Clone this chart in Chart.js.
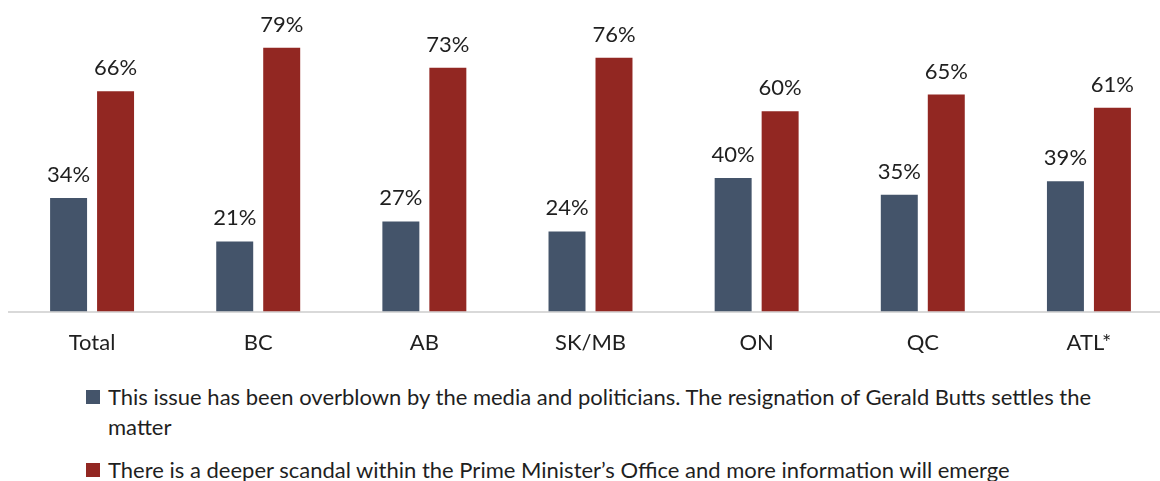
<!DOCTYPE html>
<html>
<head>
<meta charset="utf-8">
<script src="https://cdn.jsdelivr.net/npm/chart.js@4/dist/chart.umd.min.js"></script>
<style>
    html, body { margin: 0; padding: 0; background: #fff; overflow: hidden; width: 1160px; height: 481px; }
    #wrap { position: absolute; left: 0; top: 0; width: 1172px; height: 374px; }
    #legend { position: absolute; left: 0; top: 382px; font-family: Lato, sans-serif; font-size: 22px; color: #1f1f1f; }
    .legend-item { position: relative; padding-left: 108px; width: 1000px; line-height: 30px; margin-bottom: 13px; }
    .legend-box { position: absolute; left: 86px; top: 8px; width: 14px; height: 14px; }
</style>
</head>
<body>
<div id="wrap"><canvas id="chart" width="1172" height="374"></canvas></div>
<div id="legend"></div>

<script>
// ── Data ──────────────────────────────────────────────────────────────────────

const categories = ['Total', 'BC', 'AB', 'SK/MB', 'ON', 'QC', 'ATL*'];
const overblown  = [34, 21, 27, 24, 40, 35, 39];
const scandal    = [66, 79, 73, 76, 60, 65, 61];
const seriesLabels = [
    'This issue has been overblown by the media and politicians. The resignation of Gerald Butts settles the matter',
    'There is a deeper scandal within the Prime Minister\u2019s Office and more information will emerge'
];
const seriesColors = ['#44546A', '#922722'];

const FONT = 'Lato, sans-serif';

// ── Value labels above bars ───────────────────────────────────────────────────

const valueLabels = {
    id: 'valueLabels',
    afterDatasetsDraw(chart) {
        const ctx = chart.ctx;
        ctx.save();
        ctx.font = `22px ${FONT}`;
        ctx.fillStyle = '#1f1f1f';
        ctx.textAlign = 'center';
        ctx.textBaseline = 'alphabetic';
        chart.data.datasets.forEach((ds, i) => {
            chart.getDatasetMeta(i).data.forEach((bar, j) => {
                ctx.fillText(`${ds.data[j]}%`, bar.x, bar.y - 16);
            });
        });
        ctx.restore();
    }
};

// ── Chart ─────────────────────────────────────────────────────────────────────

const chart = new Chart(document.getElementById('chart').getContext('2d'), {
    type: 'bar',
    data: {
        labels: categories,
        datasets: [
            { label: seriesLabels[0], data: overblown, backgroundColor: seriesColors[0] },
            { label: seriesLabels[1], data: scandal,   backgroundColor: seriesColors[1] }
        ]
    },
    options: {
        responsive: false,
        animation: false,
        categoryPercentage: 0.5656,
        barPercentage: 0.787,
        layout: { padding: { left: 9, right: 0, top: 11, bottom: 0 } },
        scales: {
            x: {
                grid: { display: false, drawTicks: false },
                border: { color: '#d9d9d9', width: 2 },
                ticks: { color: '#1f1f1f', font: { family: FONT, size: 22 }, padding: 18, maxRotation: 0 }
            },
            y: { display: false, min: 0, max: 90 }
        },
        plugins: { legend: { display: false }, tooltip: { enabled: false } }
    },
    plugins: [valueLabels]
});

// ── Legend (HTML so the long label can wrap) ──────────────────────────────────

const legendEl = document.getElementById('legend');
chart.data.datasets.forEach(ds => {
    const item = document.createElement('div');
    item.className = 'legend-item';
    const box = document.createElement('span');
    box.className = 'legend-box';
    box.style.background = ds.backgroundColor;
    item.appendChild(box);
    item.appendChild(document.createTextNode(ds.label));
    legendEl.appendChild(item);
});
</script>
</body>
</html>
